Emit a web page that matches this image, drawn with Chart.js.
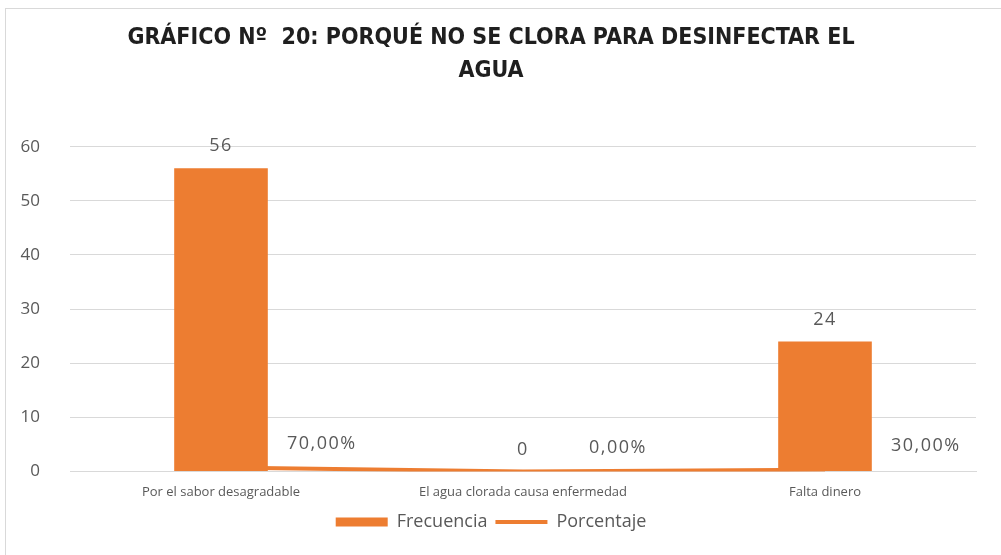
<!DOCTYPE html>
<html>
<head>
<meta charset="utf-8">
<script src="https://cdn.jsdelivr.net/npm/chart.js@4"></script>
<style>
  body { margin: 0; background: #fff; }
  #wrap { position: absolute; left: 5px; top: 8px; width: 1000px; height: 550px; border: 1px solid #d9d9d9; }
</style>
</head>
<body>
<div id="wrap"><canvas id="grafico"></canvas></div>
<script>
const categorias = ["Por el sabor desagradable", "El agua clorada causa enfermedad", "Falta dinero"];
const frecuencia = [56, 0, 24];
const porcentaje = [0.70, 0.00, 0.30];
const tituloLineas = ["GRÁFICO Nº  20: PORQUÉ NO SE CLORA PARA DESINFECTAR EL", "AGUA"];

const naranja = "#ED7D31";
const gris = "#595959";
const fuente = "'Open Sans', Lato, sans-serif";

function fmtPct(v) {
  return (v * 100).toFixed(2).replace(".", ",") + "%";
}

// etiquetas de datos (barras arriba, línea a la derecha)
const etiquetas = {
  id: "etiquetas",
  afterDatasetsDraw(chart) {
    const ctx = chart.ctx;
    ctx.save();
    ctx.font = "18px " + fuente;
    ctx.letterSpacing = "1.5px";
    ctx.fillStyle = gris;
    ctx.textBaseline = "middle";
    chart.getDatasetMeta(0).data.forEach(function (el, i) {
      ctx.textAlign = "center";
      ctx.fillText(String(frecuencia[i]), el.x, el.y - 22);
    });
    chart.getDatasetMeta(1).data.forEach(function (el, i) {
      ctx.textAlign = "left";
      ctx.fillText(fmtPct(porcentaje[i]), el.x + 66, el.y - 24);
    });
    ctx.restore();
  }
};

document.addEventListener("DOMContentLoaded", function () {
  const lienzo = document.getElementById("grafico");
  new Chart(lienzo, {
    type: "bar",
    data: {
      labels: categorias,
      datasets: [
        {
          label: "Frecuencia",
          data: frecuencia,
          backgroundColor: naranja,
          borderWidth: 0,
          barPercentage: 0.31,
          categoryPercentage: 1,
          pointStyle: "rect",
          order: 0
        },
        {
          type: "line",
          label: "Porcentaje",
          data: porcentaje,
          borderColor: naranja,
          backgroundColor: naranja,
          borderWidth: 4,
          pointRadius: 0,
          pointStyle: "line",
          tension: 0,
          order: 1
        }
      ]
    },
    options: {
      responsive: true,
      maintainAspectRatio: false,
      animation: false,
      layout: { padding: { left: 0, right: 30, top: 0, bottom: 18 } },
      plugins: {
        title: {
          display: true,
          text: tituloLineas,
          color: "#1f1f1f",
          font: { family: "'Liberation Sans Narrow', 'DejaVu Sans Condensed', sans-serif", size: 23, weight: "bold", lineHeight: 1.45 },
          padding: { top: 12, bottom: 59 }
        },
        legend: {
          position: "bottom",
          labels: {
            usePointStyle: true,
            pointStyleWidth: 52,
            boxHeight: 9,
            color: gris,
            font: { family: fuente, size: 18 },
            padding: 8
          }
        },
        tooltip: { enabled: false }
      },
      scales: {
        x: {
          grid: { display: false },
          border: { color: "#d9d9d9" },
          ticks: { color: gris, font: { family: fuente, size: 13 }, maxRotation: 0, padding: 5 }
        },
        y: {
          min: 0,
          max: 60,
          border: { display: false },
          grid: { color: "#d9d9d9", drawTicks: false },
          ticks: { stepSize: 10, color: gris, font: { family: fuente, size: 17 }, padding: 30 },
          afterFit: function (scale) { scale.width = 64; }
        }
      }
    },
    plugins: [etiquetas]
  });
});
</script>
</body>
</html>
